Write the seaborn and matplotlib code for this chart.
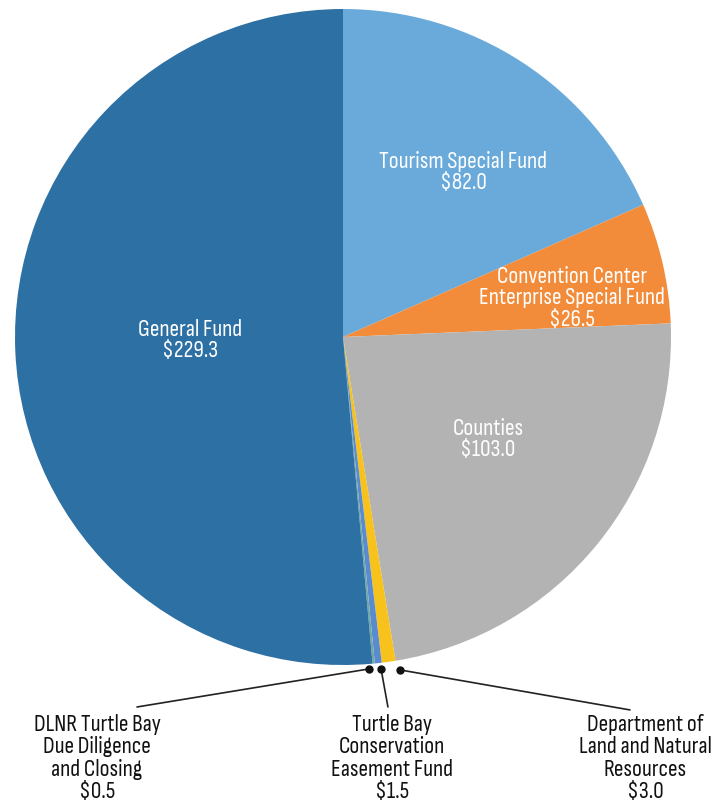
import matplotlib
matplotlib.use("Agg")
import matplotlib.pyplot as plt
import seaborn as sns

# Data
categories = ["Tourism Special Fund", "Convention Center\nEnterprise Special Fund", "Counties",
              "Department of\nLand and Natural\nResources", "Turtle Bay\nConservation\nEasement Fund",
              "DLNR Turtle Bay\nDue Diligence\nand Closing", "General Fund"]
values = [82.0, 26.5, 103.0, 3.0, 1.5, 0.5, 229.3]
value_labels = ["$82.0", "$26.5", "$103.0", "$3.0", "$1.5", "$0.5", "$229.3"]
colors_hex = ["#69aadb", "#f28c3a", "#b3b3b3", "#f7c21c", "#5a8bd0", "#6fa9a3", "#2d70a3"]

sns.set_theme(style="white")
plt.rcParams['font.family'] = ['Sofia Sans Condensed', 'DejaVu Sans']

palette = sns.color_palette(colors_hex)

fig = plt.figure(figsize=(7.13, 8.05), dpi=100)
ax = fig.add_axes([0, 0, 1, 1])
wedges, _ = ax.pie(values, colors=palette, startangle=90, counterclock=False,
                   radius=1.0, wedgeprops=dict(linewidth=0))

ax.set_xlim(-343 / 328, (713 - 343) / 328)
ax.set_ylim(-(805 - 337) / 328, 337 / 328)
ax.set_aspect('equal', adjustable='box')
ax.axis('off')

fs = 17
# inside labels
inside = {0: (0.366, 0.503), 1: (0.697, 0.119), 2: (0.442, -0.311), 6: (-0.466, -0.009)}
for i, (x, y) in inside.items():
    ax.text(x, y, categories[i] + "\n" + value_labels[i], ha='center', va='center',
            color='white', fontsize=fs, linespacing=1.02)

# outside labels with leader lines
outside = {
    5: ((0.079, -1.012), (-0.628, -1.128), (-0.75, -1.284)),
    4: ((0.116, -1.012), (0.137, -1.128), (0.149, -1.284)),
    3: ((0.174, -1.015), (0.875, -1.137), (0.921, -1.284)),
}
for i, (dot, end, txt) in outside.items():
    ax.plot([dot[0], end[0]], [dot[1], end[1]], color='#222222', lw=1.2, solid_capstyle='round')
    ax.plot(dot[0], dot[1], 'o', color='#111111', ms=5)
    ax.text(txt[0], txt[1], categories[i] + "\n" + value_labels[i], ha='center', va='center',
            color='#111111', fontsize=fs, linespacing=1.08)

fig.savefig("out.png", dpi=100)
